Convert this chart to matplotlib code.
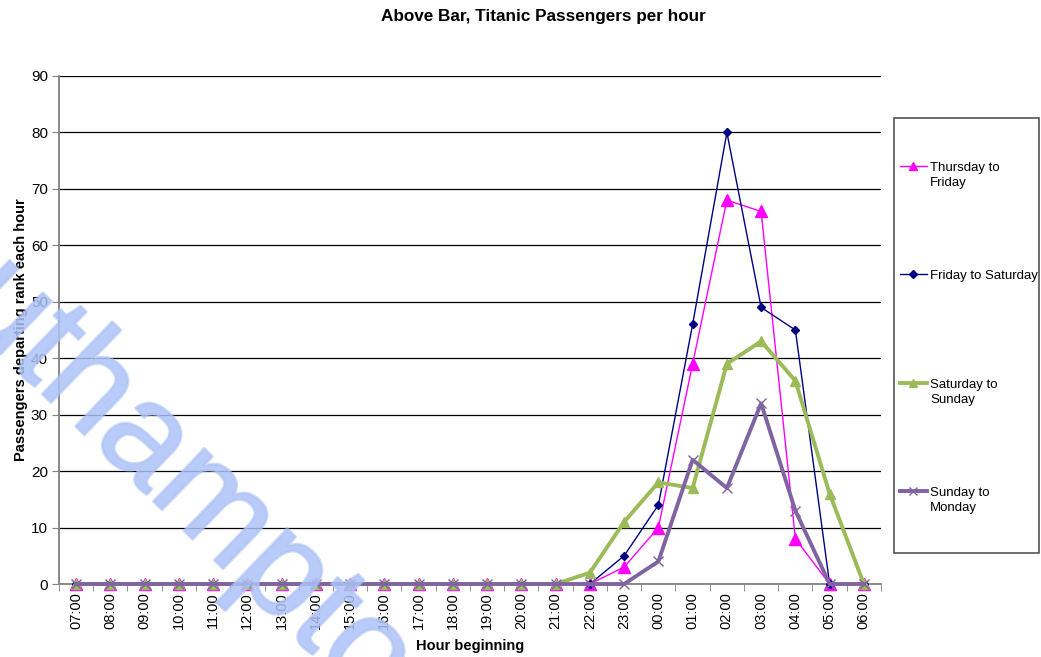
import matplotlib
matplotlib.use("Agg")
import matplotlib.pyplot as plt
import matplotlib.patheffects as pe
from matplotlib.lines import Line2D
from matplotlib.patches import Rectangle

plt.rcParams['font.family'] = ['Liberation Sans', 'DejaVu Sans']

# часы начала интервала
hours = ["07:00", "08:00", "09:00", "10:00", "11:00", "12:00", "13:00", "14:00",
         "15:00", "16:00", "17:00", "18:00", "19:00", "20:00", "21:00", "22:00",
         "23:00", "00:00", "01:00", "02:00", "03:00", "04:00", "05:00", "06:00"]

# пассажиры по ночам
thu_fri = [0, 0, 0, 0, 0, 0, 0, 0, 0, 0, 0, 0, 0, 0, 0, 0, 3, 10, 39, 68, 66, 8, 0, 0]
fri_sat = [0, 0, 0, 0, 0, 0, 0, 0, 0, 0, 0, 0, 0, 0, 0, 0, 5, 14, 46, 80, 49, 45, 0, 0]
sat_sun = [0, 0, 0, 0, 0, 0, 0, 0, 0, 0, 0, 0, 0, 0, 0, 2, 11, 18, 17, 39, 43, 36, 16, 0]
sun_mon = [0, 0, 0, 0, 0, 0, 0, 0, 0, 0, 0, 0, 0, 0, 0, 0, 0, 4, 22, 17, 32, 13, 0, 0]

series_names = ["Thursday to\nFriday", "Friday to Saturday", "Saturday to\nSunday", "Sunday to\nMonday"]

W, H = 1041, 657
fig = plt.figure(figsize=(W / 100, H / 100), dpi=100)
ax = fig.add_axes([59 / W, 1 - 584 / H, 822 / W, 508 / H])

x = list(range(len(hours)))
styles = [
    dict(color="#ff00ff", lw=1.0, marker="^", ms=8),
    dict(color="#000080", lw=1.0, marker="D", ms=4.5),
    dict(color="#9bbb59", lw=2.8, marker="^", ms=7),
    dict(color="#8064a2", lw=2.8, marker="x", ms=7, mew=1.0),
]
for vals, st in zip([thu_fri, fri_sat, sat_sun, sun_mon], styles):
    ax.plot(x, vals, clip_on=False, zorder=3, **st)

ax.set_xlim(-0.5, len(hours) - 0.5)
ax.set_ylim(0, 90)
ax.set_yticks(range(0, 91, 10))
ax.yaxis.grid(True, color="black", lw=0.9)
ax.set_axisbelow(True)

ax.set_xticks(x)
ax.set_xticklabels(hours, rotation=90, fontsize=10.5)
ax.set_xticks([i - 0.5 for i in range(len(hours) + 1)], minor=True)
ax.tick_params(axis="x", which="major", length=0, pad=6)
ax.tick_params(axis="x", which="minor", length=5, direction="out", color="#808080")
ax.tick_params(axis="y", length=5, direction="out", color="#808080", labelsize=11, pad=3)

for s in ["top", "right"]:
    ax.spines[s].set_visible(False)
for s in ["left", "bottom"]:
    ax.spines[s].set_color("#808080")
    ax.spines[s].set_linewidth(1.3)

ax.set_xlabel("Hour beginning", fontsize=10.5, fontweight="bold", labelpad=7)
ax.set_ylabel("Passengers departing rank each hour", fontsize=10.5, fontweight="bold", labelpad=2)
fig.text(543 / W, 1 - 17 / H, "Above Bar, Titanic Passengers per hour",
         ha="center", va="center", fontsize=12.3, fontweight="bold")

# легенда вручную: рамка, образцы линий и подписи
fig.patches.append(Rectangle((894 / W, 1 - 553 / H), 145 / W, 435 / H,
                             transform=fig.transFigure, fill=False,
                             edgecolor="#555555", lw=1.2))
legend_y = [166, 274, 383, 491]
for name, st, ly in zip(series_names, styles, legend_y):
    yy = 1 - ly / H
    fig.lines.append(Line2D([900 / W, 927 / W], [yy, yy], transform=fig.transFigure,
                            color=st["color"], lw=st["lw"]))
    fig.lines.append(Line2D([913 / W], [yy], transform=fig.transFigure, linestyle="none",
                            color=st["color"], marker=st["marker"],
                            ms=st["ms"] * 0.8, mew=st.get("mew", 1.0)))
    fig.text(930 / W, yy + 4 / H, name, ha="left", va="top", fontsize=9.5, linespacing=1.3)

# водяной знак поверх графика, полупрозрачный
wm_color = "#adc2f7"
fig.text(152 / W, 1 - 450 / H, "Southampton", rotation=-44, rotation_mode="anchor",
         ha="center", va="center", fontsize=100, color=wm_color, alpha=0.6, zorder=10,
         path_effects=[pe.withStroke(linewidth=2, foreground=wm_color)])

fig.savefig("out.png", dpi=100)
